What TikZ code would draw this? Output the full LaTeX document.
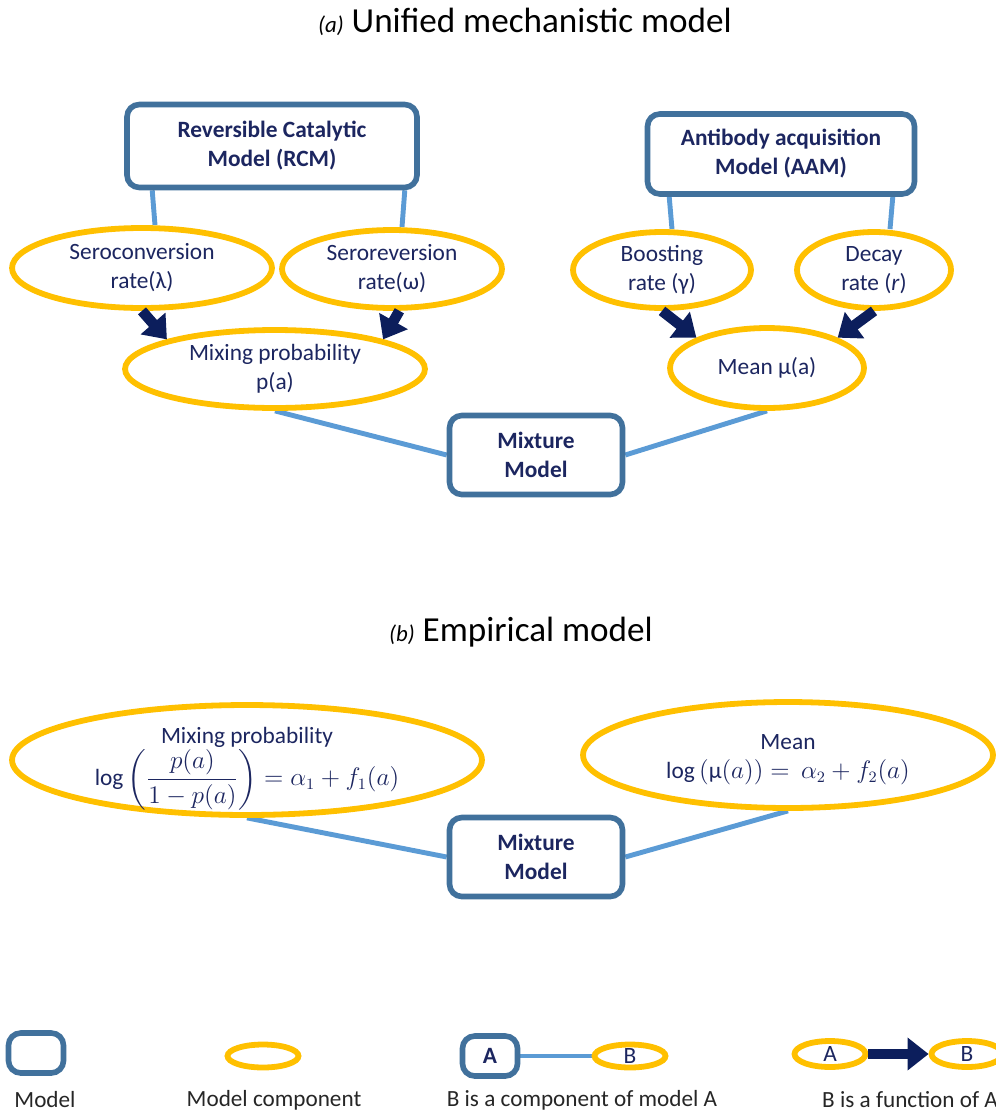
\documentclass[tikz,border=0pt]{standalone}
\usepackage{amsmath}
\usepackage{fontspec}
\setmainfont{Carlito}
\usepackage{tikz}
\usetikzlibrary{shapes.geometric, arrows.meta, backgrounds}
\definecolor{modelblue}{RGB}{65,113,156}
\definecolor{linkblue}{RGB}{91,155,213}
\definecolor{compgold}{RGB}{255,192,0}
\definecolor{inknavy}{RGB}{28,38,96}
\definecolor{arrownavy}{RGB}{12,30,92}
\tikzstyle{model}   = [draw=modelblue, line width=3.2pt, rounded corners=7pt, fill=white, text=inknavy, font=\bfseries\fontsize{13.3}{16.5}\selectfont, inner sep=0pt]
\tikzstyle{comp}    = [ellipse, draw=compgold, line width=3.3pt, fill=white, text=inknavy, font=\fontsize{13.3}{16.5}\selectfont, inner sep=0pt]
\tikzstyle{link}    = [linkblue, line width=2.8pt]
\tikzstyle{fnarrow} = [arrownavy, line width=6pt, -{Triangle[width=18pt,length=12pt]}]
\tikzstyle{heading} = [font=\fontsize{20}{24}\selectfont]
\tikzstyle{legend}  = [text=black!85, font=\fontsize{13.2}{16}\selectfont]
\newcommand{\partmark}[1]{{\fontsize{13}{15}\selectfont\itshape #1}}
\tikzset{every node/.style={align=center}}

\begin{document}
\begin{tikzpicture}[x=0.02cm, y=-0.02cm]
  \useasboundingbox (0,0) rectangle (995,1112);
  % (a) Unified mechanistic model
  \node[heading] (titlea) at (525,22) {\partmark{(a)}\ Unified mechanistic model};
  \node[model, minimum width=5.8cm, minimum height=1.66cm] (rcm) at (272,146) {Reversible Catalytic\\Model (RCM)};
  \node[model, minimum width=5.34cm, minimum height=1.6cm] (aam) at (781,154) {Antibody acquisition\\Model (AAM)};
  \node[comp, minimum width=5.2cm, minimum height=1.6cm] (sconv) at (142,268) {Seroconversion\\rate(λ)};
  \node[comp, minimum width=4.4cm, minimum height=1.56cm] (srev) at (392,269) {Seroreversion\\rate(ω)};
  \node[comp, minimum width=3.56cm, minimum height=1.52cm] (boost) at (662,270) {Boosting\\rate (γ)};
  \node[comp, minimum width=3.08cm, minimum height=1.52cm] (decay) at (874,270) {Decay\\rate (\textit{r})};
  \node[comp, minimum width=6.0cm, minimum height=1.56cm] (mixa) at (275,369) {Mixing probability\\p(a)};
  \node[comp, minimum width=3.88cm, minimum height=1.6cm] (meana) at (767,368) {Mean μ(a)};
  \node[model, minimum width=3.46cm, minimum height=1.58cm] (mixta) at (536,455) {Mixture\\Model};
  % functions
  \draw[fnarrow] (sconv.south) -- (mixa.north west);
  \draw[fnarrow] (srev.-80) -- (mixa.north east);
  \draw[fnarrow] (boost.south) -- (meana.north west);
  \draw[fnarrow] (decay.south) -- (meana.north east);

  % (b) Empirical model
  \node[heading] (titleb) at (521,632) {\partmark{(b)}\ Empirical model};
  \node[comp, inner ysep=-12pt, minimum width=9.4cm, minimum height=2.2cm] (mixb) at (247,760)
    {\rule{0pt}{19pt}Mixing probability\\[0pt] $\log\left(\dfrac{p(a)}{1-p(a)}\right)=\alpha_1+f_1(a)$};
  \node[comp, minimum width=8.2cm, minimum height=2.12cm] (meanb) at (788,755)
    {\rule{0pt}{14pt}Mean\\ $\log\,(\text{μ}(a))=\,\alpha_2+f_2(a)$};
  \node[model, minimum width=3.46cm, minimum height=1.58cm] (mixtb) at (536,857) {Mixture\\Model};

  % Legend
  \node[model, minimum width=1.1cm, minimum height=0.8cm] (lmodel) at (36,1053) {};
  \node[legend] (tmodel) at (45,1100) {Model};
  \node[comp, minimum width=1.42cm, minimum height=0.46cm] (lcomp) at (263,1056) {};
  \node[legend] (tcomp) at (274,1100) {Model component};
  \node[model, minimum width=1.1cm, minimum height=0.8cm] (la) at (490,1056) {A};
  \node[comp, minimum width=1.42cm, minimum height=0.46cm] (lb) at (630,1056) {B};
  \node[legend] (tpart) at (582,1100) {B is a component of model A};
  \node[comp, minimum width=1.42cm, minimum height=0.52cm] (lfa) at (830,1054) {A};
  \node[comp, minimum width=1.42cm, minimum height=0.52cm] (lfb) at (967,1054) {B};
  \node[legend] (tfunc) at (910,1100) {B is a function of A};
  \draw[fnarrow] (lfa) -- (lfb);

  % components (behind the shapes)
  \begin{scope}[on background layer]
    \draw[link] ([xshift=0.56cm]rcm.south west) -- ([xshift=0.26cm]sconv.north);
    \draw[link] ([xshift=-0.3cm]rcm.south east) -- ([xshift=0.2cm]srev.north);
    \draw[link] ([xshift=0.49cm]aam.south west) -- ([xshift=0.2cm]boost.north);
    \draw[link] ([xshift=-0.49cm]aam.south east) -- ([xshift=0.32cm]decay.north);
    \draw[link] (mixa.south) -- (mixta.west);
    \draw[link] (meana.south) -- (mixta.east);
    \draw[link] (mixb.south) -- (mixtb.west);
    \draw[link] (meanb.south) -- (mixtb.east);
    \draw[link] (la) -- (lb);
  \end{scope}
\end{tikzpicture}
\end{document}
